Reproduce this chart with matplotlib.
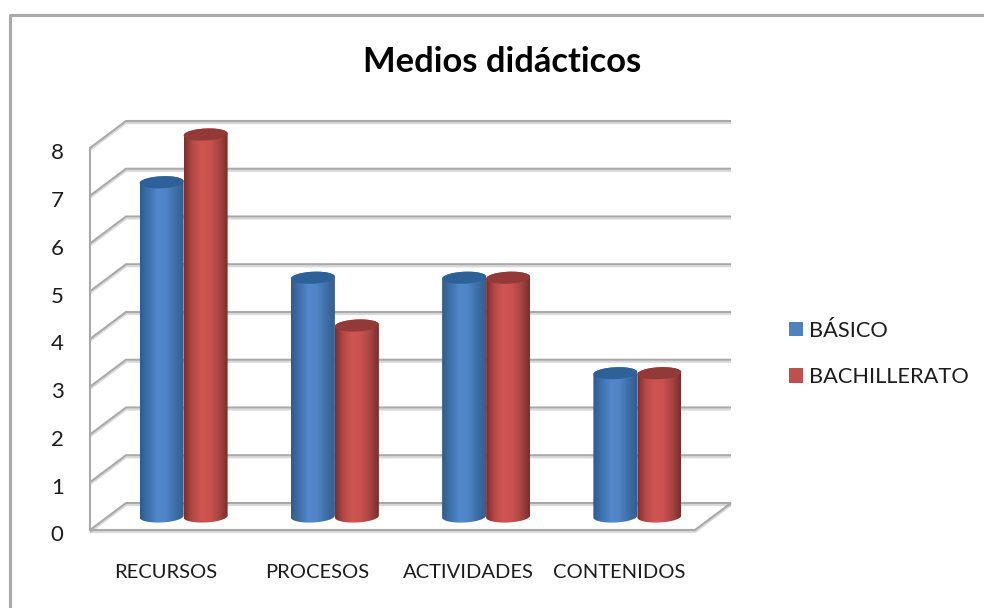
import numpy as np
from matplotlib import pyplot as plt
from matplotlib import patheffects as pe
from matplotlib.colors import LinearSegmentedColormap
from matplotlib.lines import Line2D
from matplotlib.patches import Patch, PathPatch
from matplotlib.path import Path
from matplotlib.transforms import ScaledTranslation

categorias = ["RECURSOS", "PROCESOS", "ACTIVIDADES", "CONTENIDOS"]
basico = [7, 5, 5, 3]
bachillerato = [8, 4, 5, 3]
niveles = [0, 1, 2, 3, 4, 5, 6, 7, 8]

plt.rcParams['font.family'] = ['Lato', 'DejaVu Sans']
GRIS = "#a9a9a9"
TEXTO = "#1c1c1c"

fig = plt.figure(figsize=[9.84, 6.08], dpi=100, facecolor="white")
ax = fig.add_axes([90/984, 1-530/608, 605/984, 382/608])
ax.set_facecolor("none")
for s in ax.spines.values():
    s.set_visible(False)

# profundidad del falso 3D, en unidades de datos
prof_x = 36/151.25
prof_y = 27/47.75
sombra = [pe.SimpleLineShadow(offset=(0, -1.5), shadow_color="black", alpha=.15), pe.Normal()]

# marco exterior
fig.add_artist(Line2D([10/984, 10/984, 1], [0, 1-15/608, 1-15/608], color=GRIS, lw=2.2))

# rejilla y suelo
for v in niveles:
    ax.plot([0, prof_x, 4+prof_x], [v, v+prof_y, v+prof_y], color=GRIS, lw=1.5,
            solid_capstyle="butt", clip_on=False, zorder=1, path_effects=sombra)
ax.plot([0, 0], [0, 8], color=GRIS, lw=1.5, clip_on=False, zorder=1)
ax.plot([0, 4, 4+prof_x], [0, 0, prof_y], color=GRIS, lw=1.5, solid_capstyle="butt",
        clip_on=False, zorder=1, path_effects=sombra)

azul = LinearSegmentedColormap.from_list("azul", ["#2e5c8e", "#3f72ad", "#5289cc", "#4f85c6", "#3f6fa6", "#2f5f92"])
rojo = LinearSegmentedColormap.from_list("rojo", ["#7c2e2c", "#b64a48", "#cf5553", "#c9514f", "#a84543", "#7a2d2b"])
grad = np.linspace(0, 1, 128).reshape(1, -1)

ancho = 44/151.25
a = ancho/2
b = 6/47.75
incl = 1/47.75


def cilindro(xc, valor, cmap, color_tapa, z):
    y0 = prof_y/2
    y1 = valor + prof_y/2
    t_inf = np.linspace(np.pi, 2*np.pi, 40)
    t_sup = np.linspace(0, np.pi, 40)
    xs = np.r_[xc + a*np.cos(t_inf), xc + a*np.cos(t_sup)]
    ys = np.r_[y0 + b*np.sin(t_inf) + incl*np.cos(t_inf), y1 + b*np.sin(t_sup) + incl*np.cos(t_sup)]
    cuerpo = PathPatch(Path(np.c_[xs, ys]), transform=ax.transData, facecolor="none", edgecolor="none")
    ax.add_patch(cuerpo)
    im = ax.imshow(grad, cmap=cmap, aspect="auto", extent=[xc-a, xc+a, y0-2*b, y1+2*b], zorder=z)
    im.set_clip_path(cuerpo)
    im.set_clip_box(fig.bbox)
    t = np.linspace(0, 2*np.pi, 80)
    ax.fill(xc + a*np.cos(t), y1 + b*np.sin(t) + incl*np.cos(t), color=color_tapa, lw=0,
            clip_on=False, zorder=z+.1)


for i in range(len(categorias)):
    xc = i + .5 + prof_x/2
    cilindro(xc - a, basico[i], azul, "#2f6199", 3 + i)
    cilindro(xc + a, bachillerato[i], rojo, "#933937", 3.3 + i)

ax.set_xlim(0, 4)
ax.set_ylim(0, 8)

ax.set_xticks(np.arange(4)+.5)
ax.set_xticklabels(categorias, fontsize=14.5, color=TEXTO)
ax.set_yticks(niveles)
ax.set_yticklabels([str(v) for v in niveles], fontsize=16, color=TEXTO)
ax.tick_params(axis="x", length=0, pad=24.5)
ax.tick_params(axis="y", length=0, pad=19)
baja = ScaledTranslation(0, -2.5/72, fig.dpi_scale_trans)
for lab in ax.get_yticklabels():
    lab.set_transform(lab.get_transform() + baja)

fig.suptitle("Medios didácticos", x=502/984, y=1-62/608, va="center", fontsize=24.8,
             fontweight="bold", color="black")

ley = [Patch(facecolor="#4f81bd", label="BÁSICO"), Patch(facecolor="#c0504d", label="BACHILLERATO")]
fig.legend(handles=ley, loc="center left", bbox_to_anchor=(789/984, 1-354/608),
           frameon=False, fontsize=15.7, handlelength=.64, handleheight=.64,
           handletextpad=.3, labelspacing=1.22, borderpad=0, borderaxespad=0, labelcolor=TEXTO)

fig.savefig("out.png", dpi=100)
